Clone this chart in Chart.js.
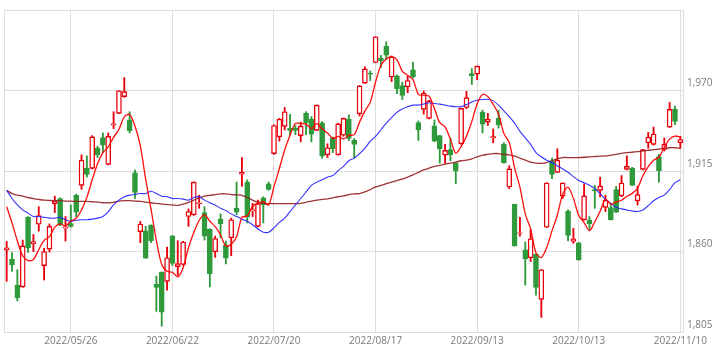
<!DOCTYPE html>
<html>
<head>
<meta charset="utf-8">
<script src="https://cdn.jsdelivr.net/npm/chart.js@4/dist/chart.umd.min.js"></script>
<style>
html,body{margin:0;padding:0;background:#fff;}
#c{display:block;}
</style>
</head>
<body>
<canvas id="c" width="718" height="352"></canvas>
<script>
const categories = [
'2022/05/10','2022/05/11','2022/05/12','2022/05/13','2022/05/16','2022/05/17','2022/05/18','2022/05/19','2022/05/20','2022/05/23','2022/05/24','2022/05/25','2022/05/26','2022/05/27','2022/05/30','2022/05/31',
'2022/06/01','2022/06/02','2022/06/03','2022/06/06','2022/06/07','2022/06/08','2022/06/09','2022/06/10','2022/06/13','2022/06/14','2022/06/15','2022/06/16','2022/06/17','2022/06/20','2022/06/21','2022/06/22','2022/06/23','2022/06/24','2022/06/27','2022/06/28','2022/06/29','2022/06/30',
'2022/07/01','2022/07/04','2022/07/05','2022/07/06','2022/07/07','2022/07/08','2022/07/11','2022/07/12','2022/07/13','2022/07/14','2022/07/15','2022/07/19','2022/07/20','2022/07/21','2022/07/22','2022/07/25','2022/07/26','2022/07/27','2022/07/28','2022/07/29',
'2022/08/01','2022/08/02','2022/08/03','2022/08/04','2022/08/05','2022/08/08','2022/08/09','2022/08/10','2022/08/12','2022/08/15','2022/08/16','2022/08/17','2022/08/18','2022/08/19','2022/08/22','2022/08/23','2022/08/24','2022/08/25','2022/08/26','2022/08/29','2022/08/30','2022/08/31',
'2022/09/01','2022/09/02','2022/09/05','2022/09/06','2022/09/07','2022/09/08','2022/09/09','2022/09/12','2022/09/13','2022/09/14','2022/09/15','2022/09/16','2022/09/20','2022/09/21','2022/09/22','2022/09/26','2022/09/27','2022/09/28','2022/09/29','2022/09/30',
'2022/10/03','2022/10/04','2022/10/05','2022/10/06','2022/10/07','2022/10/11','2022/10/12','2022/10/13','2022/10/14','2022/10/17','2022/10/18','2022/10/19','2022/10/20','2022/10/21','2022/10/24','2022/10/25','2022/10/26','2022/10/27','2022/10/28','2022/10/31',
'2022/11/01','2022/11/02','2022/11/04','2022/11/07','2022/11/08','2022/11/09','2022/11/10'
];
const tickLabels = ['2022/05/26','2022/06/22','2022/07/20','2022/08/17','2022/09/13','2022/10/13','2022/11/10'];
const yTicks = [1805, 1860, 1915, 1970, 2025];

const open = [
1861.1,1854.6,1837.0,1835.8,1883.5,1865.1,1878.6,1850.4,1861.6,1892.7,
1896.2,1875.9,1879.0,1898.3,1905.2,1917.0,1916.8,1930.5,1937.8,1919.5,
1946.3,1954.4,1965.8,1949.9,1913.7,1873.6,1874.1,1878.1,1837.6,1845.9,
1839.6,1870.7,1849.7,1851.1,1883.9,1885.1,1892.7,1886.6,1875.4,1859.8,
1882.1,1864.3,1869.4,1889.5,1912.8,1907.4,1887.7,1877.2,1896.7,1906.3,
1926.9,1938.3,1945.5,1944.1,1944.3,1939.2,1954.4,1950.4,1942.8,1947.9,
1926.0,1937.6,1926.0,1939.4,1950.4,1936.1,1954.0,1975.0,1981.9,1989.1,
1992.2,2000.3,1979.2,1980.1,1973.4,1972.5,1984.2,1948.1,1957.1,1951.0,
1945.9,1939.2,1925.8,1929.6,1920.6,1933.6,1958.4,1981.5,1981.2,1955.3,
1948.4,1937.6,1951.0,1933.2,1904.1,1892.2,1872.3,1861.1,1855.7,1858.2,
1827.3,1876.6,1922.0,1914.1,1897.8,1887.7,1866.9,1866.0,1881.7,1881.5,
1902.3,1901.8,1890.2,1890.0,1902.3,1898.0,1916.1,1917.0,1894.7,1916.1,
1934.3,1933.2,1924.9,1929.8,1945.0,1957.1,1934.3
];
const high = [
1866.9,1859.3,1847.5,1867.8,1883.9,1871.6,1890.6,1862.2,1878.8,1897.8,
1896.7,1883.9,1891.8,1899.1,1926.0,1925.3,1939.2,1932.0,1941.0,1941.0,
1955.5,1970.0,1978.8,1955.5,1915.7,1880.6,1877.2,1878.3,1843.2,1846.1,
1863.1,1870.9,1867.4,1866.9,1889.1,1907.6,1898.5,1890.6,1875.6,1870.5,
1885.7,1867.2,1882.8,1907.4,1924.2,1909.0,1892.9,1895.1,1897.4,1907.4,
1946.6,1951.0,1958.4,1953.7,1946.1,1948.4,1955.5,1952.2,1960.2,1948.8,
1933.6,1938.1,1947.7,1951.2,1953.3,1937.2,1973.4,1986.2,1983.3,2006.9,
1994.0,2003.2,1993.6,1980.6,1975.7,1979.7,1989.5,1949.2,1969.6,1963.3,
1949.9,1939.4,1933.2,1937.6,1920.8,1958.0,1969.4,1985.0,1986.8,1956.6,
1954.4,1943.7,1956.6,1934.3,1918.6,1892.4,1883.3,1866.5,1875.0,1858.4,
1847.7,1907.0,1923.8,1930.2,1907.0,1888.4,1875.9,1866.2,1906.3,1883.9,
1905.2,1910.8,1898.5,1892.9,1904.5,1911.9,1925.3,1917.5,1904.5,1929.8,
1941.4,1945.0,1926.4,1937.6,1961.8,1959.3,1938.7
];
const low = [
1839.6,1846.4,1826.2,1835.5,1859.3,1860.0,1873.9,1840.5,1859.6,1886.6,
1877.7,1867.2,1876.6,1883.9,1902.5,1910.8,1916.4,1924.2,1927.6,1919.1,
1943.9,1954.2,1965.4,1941.0,1896.2,1866.0,1855.3,1866.0,1819.1,1809.0,
1833.6,1850.4,1843.7,1850.4,1877.2,1884.6,1889.5,1867.8,1835.8,1856.0,
1869.4,1851.5,1857.1,1885.1,1904.5,1879.5,1883.9,1876.8,1879.5,1901.8,
1926.4,1935.4,1943.0,1939.4,1939.8,1934.9,1939.8,1934.9,1942.6,1923.8,
1924.2,1927.6,1925.8,1938.7,1935.8,1923.8,1952.6,1974.8,1976.8,1988.9,
1985.7,1991.3,1976.1,1967.8,1963.8,1968.5,1978.6,1935.8,1953.9,1950.6,
1934.9,1920.4,1920.2,1922.0,1906.3,1933.2,1957.6,1974.1,1977.4,1941.0,
1946.1,1934.3,1944.3,1920.4,1903.0,1863.6,1870.5,1837.0,1853.1,1830.2,
1815.0,1876.4,1909.7,1913.9,1896.2,1867.2,1865.6,1854.0,1881.3,1875.0,
1889.5,1897.4,1887.3,1881.5,1886.6,1897.4,1915.7,1905.0,1891.8,1915.7,
1930.5,1932.7,1907.4,1928.7,1944.8,1946.6,1930.5
];
const close = [
1862.5,1850.8,1828.5,1863.8,1862.7,1866.7,1884.6,1860.0,1877.2,1894.7,
1878.1,1876.8,1877.2,1886.8,1922.4,1912.6,1938.3,1926.0,1932.7,1938.7,
1947.2,1969.8,1969.2,1942.5,1900.3,1878.8,1855.5,1867.4,1835.4,1818.6,
1855.7,1851.9,1851.7,1866.5,1887.3,1907.4,1893.3,1870.5,1844.8,1868.9,
1879.0,1855.5,1881.7,1886.8,1914.1,1883.5,1888.4,1892.7,1892.0,1902.5,
1946.1,1950.4,1955.5,1942.8,1942.8,1945.7,1948.1,1940.1,1960.0,1925.3,
1930.9,1930.2,1947.2,1951.0,1937.2,1933.2,1973.2,1984.8,1981.2,2006.7,
1990.4,1994.2,1992.9,1971.2,1966.7,1976.8,1979.2,1943.2,1968.3,1962.9,
1935.4,1930.2,1929.1,1926.0,1915.3,1957.8,1965.1,1979.9,1986.6,1947.0,
1950.4,1938.5,1946.6,1920.6,1916.4,1863.8,1872.8,1854.9,1868.7,1835.4,
1847.5,1906.8,1912.6,1922.4,1906.8,1871.0,1868.7,1854.2,1898.0,1879.0,
1901.4,1904.7,1895.1,1881.7,1886.8,1906.8,1918.2,1905.2,1898.9,1929.6,
1938.1,1940.3,1915.3,1933.2,1957.1,1948.8,1936.5
];
const ma5 = [
1890.6,1879.5,1867.2,1857.1,1853.7,1854.5,1861.3,1867.6,1870.2,1876.6,
1878.9,1877.4,1880.8,1882.7,1888.3,1897.0,1909.0,1920.0,1927.5,1931.5,
1938.0,1943.5,1952.0,1953.6,1945.8,1932.1,1909.3,1888.9,1867.5,1851.1,
1846.5,1845.8,1842.7,1848.9,1862.6,1873.0,1881.2,1885.0,1880.7,1877.0,
1871.3,1863.7,1865.0,1870.0,1883.4,1884.3,1890.9,1893.1,1894.1,1891.8,
1904.3,1916.7,1929.3,1939.5,1947.5,1947.4,1947.0,1943.9,1947.3,1943.8,
1940.9,1937.3,1938.7,1936.9,1939.3,1939.8,1948.4,1955.9,1961.9,1975.8,
1987.3,1991.5,1993.1,1991.1,1983.1,1980.4,1977.4,1967.4,1966.8,1966.1,
1957.8,1948.0,1945.2,1936.7,1927.2,1931.7,1938.7,1948.8,1960.9,1967.3,
1965.8,1960.5,1953.8,1940.6,1934.5,1917.2,1904.0,1885.7,1875.3,1859.1,
1855.9,1862.7,1874.2,1884.9,1899.2,1903.9,1896.3,1884.6,1879.7,1874.2,
1880.3,1887.5,1895.6,1892.4,1893.9,1895.0,1897.7,1899.7,1903.2,1911.7,
1918.0,1922.4,1924.4,1931.3,1936.8,1938.9,1938.2
];
const ma25 = [
1901.8,1896.2,1891.8,1888.4,1886.2,1883.9,1883.9,1883.3,1882.8,1882.8,
1883.3,1881.7,1880.6,1881.3,1881.7,1881.7,1882.1,1882.8,1883.9,1887.3,
1891.8,1895.1,1897.4,1898.5,1899.1,1899.6,1899.6,1901.2,1899.6,1897.8,
1897.4,1896.2,1896.2,1895.8,1895.1,1896.9,1897.4,1895.1,1893.3,1891.8,
1889.5,1888.0,1885.7,1883.9,1882.1,1880.6,1878.3,1875.4,1873.2,1873.2,
1876.1,1879.9,1882.8,1887.3,1891.8,1896.2,1900.7,1905.2,1907.4,1909.0,
1910.8,1911.9,1915.3,1918.2,1922.0,1923.8,1926.9,1930.5,1935.4,1938.7,
1943.2,1947.7,1951.5,1955.1,1957.3,1958.9,1960.0,1960.0,1960.7,1961.6,
1961.1,1960.7,1960.0,1959.3,1958.9,1958.9,1960.4,1962.2,1963.3,1963.8,
1964.0,1962.9,1960.0,1956.0,1952.2,1947.7,1942.1,1937.6,1933.2,1927.6,
1924.7,1922.4,1920.8,1918.6,1916.4,1914.1,1911.2,1908.5,1907.0,1905.2,
1903.0,1899.6,1895.6,1892.9,1890.2,1889.1,1888.4,1887.7,1887.3,1888.4,
1891.3,1894.7,1896.9,1898.5,1902.3,1907.0,1909.0
];
const ma75 = [
1901.8,1899.6,1898.5,1897.8,1896.9,1896.2,1895.6,1895.1,1894.9,1894.7,
1894.7,1894.4,1894.4,1894.2,1894.2,1894.2,1894.0,1893.8,1893.3,1893.3,
1893.6,1894.4,1894.7,1894.7,1894.4,1894.2,1893.8,1893.3,1892.9,1892.4,
1892.0,1891.8,1891.5,1892.4,1893.6,1895.1,1896.7,1897.8,1898.3,1898.9,
1899.4,1899.4,1898.9,1898.7,1898.3,1896.9,1895.1,1893.6,1892.9,1892.7,
1892.7,1892.7,1892.7,1892.7,1892.7,1892.9,1893.6,1894.4,1895.1,1895.6,
1896.0,1896.7,1897.4,1898.0,1898.9,1899.4,1899.6,1900.7,1902.3,1904.1,
1905.2,1906.3,1907.4,1908.5,1909.4,1910.8,1912.3,1914.1,1915.7,1917.0,
1918.2,1918.8,1919.7,1920.4,1921.1,1922.0,1922.4,1923.3,1924.7,1925.8,
1926.4,1926.9,1926.9,1926.4,1926.0,1925.1,1923.8,1922.4,1921.1,1920.4,
1920.2,1920.8,1922.0,1923.5,1924.2,1924.2,1924.2,1924.2,1924.4,1924.7,
1924.9,1925.1,1925.3,1925.8,1926.4,1927.1,1927.6,1927.8,1928.2,1928.7,
1929.1,1929.6,1930.0,1930.5,1930.9,1930.9,1930.5
];

const UP = '#e8000b';
const DOWN = '#2f9a3c';
const isUp = i => close[i] >= open[i];

const frame = {
  id: 'frame',
  beforeDatasetsDraw(chart) {
    const a = chart.chartArea, ctx = chart.ctx;
    ctx.save();
    ctx.strokeStyle = '#dcdcdc';
    ctx.lineWidth = 1;
    ctx.beginPath();
    ctx.moveTo(Math.round(a.left) + 0.5, a.top);
    ctx.lineTo(Math.round(a.left) + 0.5, a.bottom);
    ctx.stroke();
    ctx.restore();
  }
};

new Chart(document.getElementById('c'), {
  type: 'bar',
  data: {
    labels: categories,
    datasets: [
      { type: 'line', data: ma5, borderColor: 'rgba(255,0,0,0.95)', borderWidth: 1.3, pointRadius: 0, tension: 0.3, order: 1 },
      { type: 'line', data: ma25, borderColor: 'rgba(30,30,255,0.9)', borderWidth: 1.1, pointRadius: 0, tension: 0.3, order: 2 },
      { type: 'line', data: ma75, borderColor: 'rgba(150,30,30,0.9)', borderWidth: 1.3, pointRadius: 0, tension: 0.3, order: 3 },
      { data: open.map((o, i) => [o, close[i]]), grouped: false, barThickness: 5, borderWidth: 1.4, borderSkipped: false,
        backgroundColor: c => isUp(c.dataIndex) ? '#ffffff' : DOWN,
        borderColor: c => isUp(c.dataIndex) ? UP : DOWN, order: 4 },
      { data: low.map((l, i) => [l, high[i]]), grouped: false, barThickness: 1.2, borderWidth: 0,
        backgroundColor: c => isUp(c.dataIndex) ? UP : DOWN, order: 5 }
    ]
  },
  options: {
    responsive: false,
    animation: false,
    devicePixelRatio: 1,
    layout: { padding: { left: 4, top: 3, right: 0, bottom: 0 } },
    plugins: { legend: { display: false }, tooltip: { enabled: false } },
    scales: {
      x: {
        type: 'category',
        offset: true,
        afterFit: s => { s.height = 20; },
        grid: {
          offset: false,
          drawTicks: false,
          color: c => tickLabels.includes(categories[c.index]) ? '#dcdcdc' : 'rgba(0,0,0,0)',
          lineWidth: 1
        },
        border: { display: true, color: '#dcdcdc' },
        ticks: {
          autoSkip: false, maxRotation: 0, minRotation: 0, padding: 3,
          color: '#7a7a7a', font: { family: 'Open Sans', size: 10 },
          callback: (v, i) => tickLabels.includes(categories[i]) ? categories[i] : ''
        }
      },
      y: {
        position: 'right',
        min: yTicks[0], max: yTicks[yTicks.length - 1],
        afterFit: s => { s.width = 35; },
        afterBuildTicks: s => { s.ticks = yTicks.map(v => ({ value: v })); },
        grid: { drawTicks: false, color: '#dcdcdc', lineWidth: 1 },
        border: { display: true, color: '#dcdcdc' },
        ticks: {
          padding: 4, labelOffset: -7,
          color: '#7a7a7a', font: { family: 'Open Sans', size: 10 },
          callback: v => v === yTicks[yTicks.length - 1] ? '' : v.toLocaleString('en-US')
        }
      }
    }
  },
  plugins: [frame]
});
</script>
</body>
</html>
